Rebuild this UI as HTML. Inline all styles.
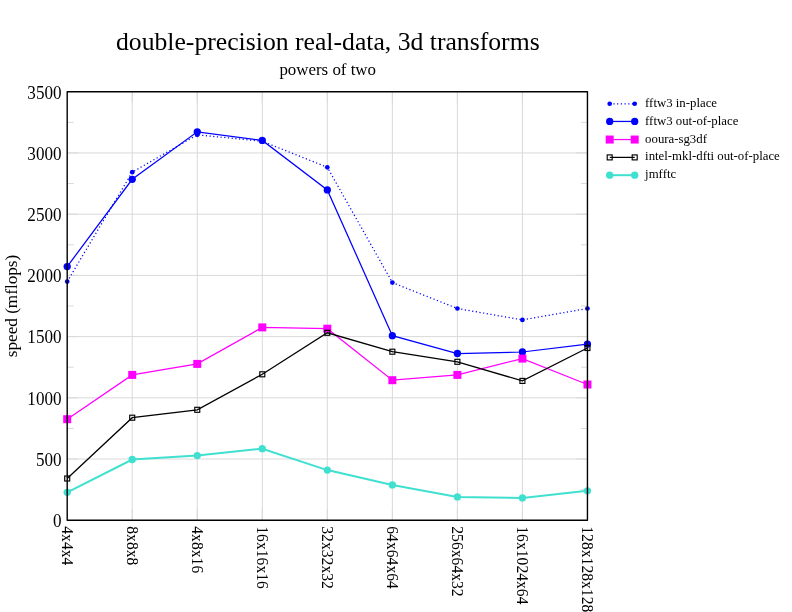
<!DOCTYPE html>
<html><head><meta charset="utf-8"><title>double-precision real-data, 3d transforms</title>
<style>
html,body{margin:0;padding:0;background:#fff;}
body{width:792px;height:612px;overflow:hidden;}
svg{display:block;}
text{font-family:"Liberation Serif","Times New Roman",serif;fill:#000;}
</style></head><body>
<svg width="792" height="612" viewBox="0 0 792 612">
<rect width="792" height="612" fill="#fff"/>

<g stroke="#d9d9d9" stroke-width="1" fill="none">
<line x1="132.23" y1="91.75" x2="132.23" y2="520.25"/>
<line x1="197.26" y1="91.75" x2="197.26" y2="520.25"/>
<line x1="262.29" y1="91.75" x2="262.29" y2="520.25"/>
<line x1="327.32" y1="91.75" x2="327.32" y2="520.25"/>
<line x1="392.36" y1="91.75" x2="392.36" y2="520.25"/>
<line x1="457.39" y1="91.75" x2="457.39" y2="520.25"/>
<line x1="522.42" y1="91.75" x2="522.42" y2="520.25"/>
<line x1="67.20" y1="459.04" x2="587.45" y2="459.04"/>
<line x1="67.20" y1="397.82" x2="587.45" y2="397.82"/>
<line x1="67.20" y1="336.61" x2="587.45" y2="336.61"/>
<line x1="67.20" y1="275.39" x2="587.45" y2="275.39"/>
<line x1="67.20" y1="214.18" x2="587.45" y2="214.18"/>
<line x1="67.20" y1="152.96" x2="587.45" y2="152.96"/>
<line x1="132.23" y1="91.75" x2="132.23" y2="102.75"/>
<line x1="132.23" y1="509.25" x2="132.23" y2="520.25"/>
<line x1="197.26" y1="91.75" x2="197.26" y2="102.75"/>
<line x1="197.26" y1="509.25" x2="197.26" y2="520.25"/>
<line x1="262.29" y1="91.75" x2="262.29" y2="102.75"/>
<line x1="262.29" y1="509.25" x2="262.29" y2="520.25"/>
<line x1="327.32" y1="91.75" x2="327.32" y2="102.75"/>
<line x1="327.32" y1="509.25" x2="327.32" y2="520.25"/>
<line x1="392.36" y1="91.75" x2="392.36" y2="102.75"/>
<line x1="392.36" y1="509.25" x2="392.36" y2="520.25"/>
<line x1="457.39" y1="91.75" x2="457.39" y2="102.75"/>
<line x1="457.39" y1="509.25" x2="457.39" y2="520.25"/>
<line x1="522.42" y1="91.75" x2="522.42" y2="102.75"/>
<line x1="522.42" y1="509.25" x2="522.42" y2="520.25"/>
<line x1="67.20" y1="459.04" x2="78.20" y2="459.04"/>
<line x1="576.45" y1="459.04" x2="587.45" y2="459.04"/>
<line x1="67.20" y1="397.82" x2="78.20" y2="397.82"/>
<line x1="576.45" y1="397.82" x2="587.45" y2="397.82"/>
<line x1="67.20" y1="336.61" x2="78.20" y2="336.61"/>
<line x1="576.45" y1="336.61" x2="587.45" y2="336.61"/>
<line x1="67.20" y1="275.39" x2="78.20" y2="275.39"/>
<line x1="576.45" y1="275.39" x2="587.45" y2="275.39"/>
<line x1="67.20" y1="214.18" x2="78.20" y2="214.18"/>
<line x1="576.45" y1="214.18" x2="587.45" y2="214.18"/>
<line x1="67.20" y1="152.96" x2="78.20" y2="152.96"/>
<line x1="576.45" y1="152.96" x2="587.45" y2="152.96"/>
<line x1="67.20" y1="489.64" x2="73.70" y2="489.64"/>
<line x1="580.95" y1="489.64" x2="587.45" y2="489.64"/>
<line x1="67.20" y1="428.43" x2="73.70" y2="428.43"/>
<line x1="580.95" y1="428.43" x2="587.45" y2="428.43"/>
<line x1="67.20" y1="367.21" x2="73.70" y2="367.21"/>
<line x1="580.95" y1="367.21" x2="587.45" y2="367.21"/>
<line x1="67.20" y1="306.00" x2="73.70" y2="306.00"/>
<line x1="580.95" y1="306.00" x2="587.45" y2="306.00"/>
<line x1="67.20" y1="244.79" x2="73.70" y2="244.79"/>
<line x1="580.95" y1="244.79" x2="587.45" y2="244.79"/>
<line x1="67.20" y1="183.57" x2="73.70" y2="183.57"/>
<line x1="580.95" y1="183.57" x2="587.45" y2="183.57"/>
<line x1="67.20" y1="122.36" x2="73.70" y2="122.36"/>
<line x1="580.95" y1="122.36" x2="587.45" y2="122.36"/>
</g>
<polyline points="67.20,281.60 132.23,172.20 197.26,134.80 262.29,141.30 327.32,167.30 392.36,282.60 457.39,308.50 522.42,319.90 587.45,308.50" fill="none" stroke="#0000ff" stroke-width="1.25" stroke-dasharray="1.2 2.5"/>
<circle cx="67.20" cy="281.60" r="2.35" fill="#0000ff"/>
<circle cx="132.23" cy="172.20" r="2.35" fill="#0000ff"/>
<circle cx="197.26" cy="134.80" r="2.35" fill="#0000ff"/>
<circle cx="262.29" cy="141.30" r="2.35" fill="#0000ff"/>
<circle cx="327.32" cy="167.30" r="2.35" fill="#0000ff"/>
<circle cx="392.36" cy="282.60" r="2.35" fill="#0000ff"/>
<circle cx="457.39" cy="308.50" r="2.35" fill="#0000ff"/>
<circle cx="522.42" cy="319.90" r="2.35" fill="#0000ff"/>
<circle cx="587.45" cy="308.50" r="2.35" fill="#0000ff"/>
<polyline points="67.20,266.60 132.23,179.30 197.26,131.80 262.29,140.40 327.32,189.90 392.36,335.70 457.39,353.50 522.42,352.00 587.45,344.10" fill="none" stroke="#0000ff" stroke-width="1.25"/>
<circle cx="67.20" cy="266.60" r="3.65" fill="#0000ff"/>
<circle cx="132.23" cy="179.30" r="3.65" fill="#0000ff"/>
<circle cx="197.26" cy="131.80" r="3.65" fill="#0000ff"/>
<circle cx="262.29" cy="140.40" r="3.65" fill="#0000ff"/>
<circle cx="327.32" cy="189.90" r="3.65" fill="#0000ff"/>
<circle cx="392.36" cy="335.70" r="3.65" fill="#0000ff"/>
<circle cx="457.39" cy="353.50" r="3.65" fill="#0000ff"/>
<circle cx="522.42" cy="352.00" r="3.65" fill="#0000ff"/>
<circle cx="587.45" cy="344.10" r="3.65" fill="#0000ff"/>
<polyline points="67.20,419.20 132.23,374.90 197.26,363.90 262.29,327.40 327.32,328.70 392.36,380.20 457.39,374.90 522.42,358.60 587.45,384.50" fill="none" stroke="#ff00ff" stroke-width="1.25"/>
<rect x="63.20" y="415.20" width="8" height="8" fill="#ff00ff"/>
<rect x="128.23" y="370.90" width="8" height="8" fill="#ff00ff"/>
<rect x="193.26" y="359.90" width="8" height="8" fill="#ff00ff"/>
<rect x="258.29" y="323.40" width="8" height="8" fill="#ff00ff"/>
<rect x="323.32" y="324.70" width="8" height="8" fill="#ff00ff"/>
<rect x="388.36" y="376.20" width="8" height="8" fill="#ff00ff"/>
<rect x="453.39" y="370.90" width="8" height="8" fill="#ff00ff"/>
<rect x="518.42" y="354.60" width="8" height="8" fill="#ff00ff"/>
<rect x="583.45" y="380.50" width="8" height="8" fill="#ff00ff"/>
<polyline points="67.20,478.50 132.23,417.70 197.26,409.80 262.29,374.30 327.32,332.80 392.36,351.70 457.39,361.80 522.42,380.90 587.45,348.00" fill="none" stroke="#000" stroke-width="1.25"/>
<rect x="64.70" y="476.00" width="5" height="5" fill="none" stroke="#000" stroke-width="1.15"/>
<rect x="129.73" y="415.20" width="5" height="5" fill="none" stroke="#000" stroke-width="1.15"/>
<rect x="194.76" y="407.30" width="5" height="5" fill="none" stroke="#000" stroke-width="1.15"/>
<rect x="259.79" y="371.80" width="5" height="5" fill="none" stroke="#000" stroke-width="1.15"/>
<rect x="324.82" y="330.30" width="5" height="5" fill="none" stroke="#000" stroke-width="1.15"/>
<rect x="389.86" y="349.20" width="5" height="5" fill="none" stroke="#000" stroke-width="1.15"/>
<rect x="454.89" y="359.30" width="5" height="5" fill="none" stroke="#000" stroke-width="1.15"/>
<rect x="519.92" y="378.40" width="5" height="5" fill="none" stroke="#000" stroke-width="1.15"/>
<rect x="584.95" y="345.50" width="5" height="5" fill="none" stroke="#000" stroke-width="1.15"/>
<polyline points="67.20,492.30 132.23,459.50 197.26,455.60 262.29,448.70 327.32,470.10 392.36,484.90 457.39,496.90 522.42,497.90 587.45,490.80" fill="none" stroke="#40e0d0" stroke-width="2"/>
<circle cx="67.20" cy="492.30" r="3.65" fill="#40e0d0"/>
<circle cx="132.23" cy="459.50" r="3.65" fill="#40e0d0"/>
<circle cx="197.26" cy="455.60" r="3.65" fill="#40e0d0"/>
<circle cx="262.29" cy="448.70" r="3.65" fill="#40e0d0"/>
<circle cx="327.32" cy="470.10" r="3.65" fill="#40e0d0"/>
<circle cx="392.36" cy="484.90" r="3.65" fill="#40e0d0"/>
<circle cx="457.39" cy="496.90" r="3.65" fill="#40e0d0"/>
<circle cx="522.42" cy="497.90" r="3.65" fill="#40e0d0"/>
<circle cx="587.45" cy="490.80" r="3.65" fill="#40e0d0"/>
<rect x="67.20" y="91.75" width="520.25" height="428.50" fill="none" stroke="#000" stroke-width="1.4" stroke-linejoin="round"/>
<polyline points="609.70,103.75 634.70,103.75" fill="none" stroke="#0000ff" stroke-width="1.25" stroke-dasharray="1.2 2.5"/>
<circle cx="609.70" cy="103.75" r="2.35" fill="#0000ff"/>
<circle cx="634.70" cy="103.75" r="2.35" fill="#0000ff"/>
<text x="645.1" y="106.7" font-size="12.8">fftw3 in-place</text>
<polyline points="609.70,121.45 634.70,121.45" fill="none" stroke="#0000ff" stroke-width="1.25"/>
<circle cx="609.70" cy="121.45" r="3.65" fill="#0000ff"/>
<circle cx="634.70" cy="121.45" r="3.65" fill="#0000ff"/>
<text x="645.1" y="124.5" font-size="12.8">fftw3 out-of-place</text>
<polyline points="609.70,139.55 634.70,139.55" fill="none" stroke="#ff00ff" stroke-width="1.25"/>
<rect x="605.70" y="135.55" width="8" height="8" fill="#ff00ff"/>
<rect x="630.70" y="135.55" width="8" height="8" fill="#ff00ff"/>
<text x="645.1" y="142.8" font-size="12.8">ooura-sg3df</text>
<polyline points="609.70,157.40 634.70,157.40" fill="none" stroke="#000" stroke-width="1.25"/>
<rect x="607.20" y="154.90" width="5" height="5" fill="none" stroke="#000" stroke-width="1.15"/>
<rect x="632.20" y="154.90" width="5" height="5" fill="none" stroke="#000" stroke-width="1.15"/>
<text x="645.1" y="160.1" font-size="12.8">intel-mkl-dfti out-of-place</text>
<polyline points="609.70,175.20 634.70,175.20" fill="none" stroke="#40e0d0" stroke-width="2"/>
<circle cx="609.70" cy="175.20" r="3.65" fill="#40e0d0"/>
<circle cx="634.70" cy="175.20" r="3.65" fill="#40e0d0"/>
<text x="645.1" y="177.9" font-size="12.8">jmfftc</text>
<text x="327.8" y="49.6" font-size="25.7" text-anchor="middle">double-precision real-data, 3d transforms</text>
<text x="327.7" y="75.2" font-size="16.9" text-anchor="middle">powers of two</text>
<text transform="translate(61.5,527.10) scale(0.96,1)" font-size="17.8" text-anchor="end">0</text>
<text transform="translate(61.5,465.89) scale(0.96,1)" font-size="17.8" text-anchor="end">500</text>
<text transform="translate(61.5,404.67) scale(0.96,1)" font-size="17.8" text-anchor="end">1000</text>
<text transform="translate(61.5,343.46) scale(0.96,1)" font-size="17.8" text-anchor="end">1500</text>
<text transform="translate(61.5,282.24) scale(0.96,1)" font-size="17.8" text-anchor="end">2000</text>
<text transform="translate(61.5,221.03) scale(0.96,1)" font-size="17.8" text-anchor="end">2500</text>
<text transform="translate(61.5,159.81) scale(0.96,1)" font-size="17.8" text-anchor="end">3000</text>
<text transform="translate(61.5,98.60) scale(0.96,1)" font-size="17.8" text-anchor="end">3500</text>
<text transform="translate(17.4,306.0) rotate(-90)" font-size="17.15" text-anchor="middle">speed (mflops)</text>
<text transform="translate(61.60,526.3) rotate(90) scale(0.92,1)" font-size="17.0">4x4x4</text>
<text transform="translate(126.63,526.3) rotate(90) scale(0.92,1)" font-size="17.0">8x8x8</text>
<text transform="translate(191.66,526.3) rotate(90) scale(0.92,1)" font-size="17.0">4x8x16</text>
<text transform="translate(256.69,526.3) rotate(90) scale(0.92,1)" font-size="17.0">16x16x16</text>
<text transform="translate(321.72,526.3) rotate(90) scale(0.92,1)" font-size="17.0">32x32x32</text>
<text transform="translate(386.76,526.3) rotate(90) scale(0.92,1)" font-size="17.0">64x64x64</text>
<text transform="translate(451.79,526.3) rotate(90) scale(0.92,1)" font-size="17.0">256x64x32</text>
<text transform="translate(516.82,526.3) rotate(90) scale(0.92,1)" font-size="17.0">16x1024x64</text>
<text transform="translate(581.85,526.3) rotate(90) scale(0.92,1)" font-size="17.0">128x128x128</text>
</svg></body></html>
